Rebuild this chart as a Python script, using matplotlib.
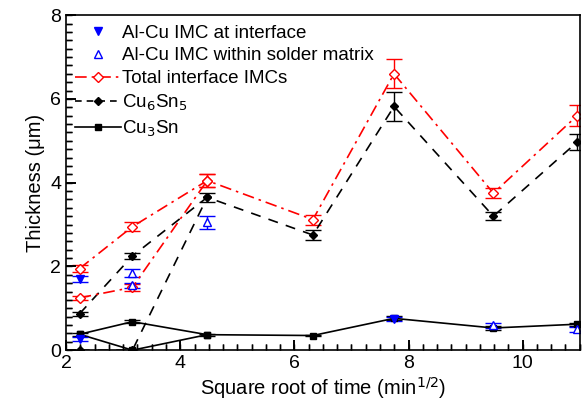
import numpy as np
import matplotlib.pyplot as plt
from matplotlib.lines import Line2D
from matplotlib.ticker import MultipleLocator

plt.rcParams['font.family'] = ['Liberation Sans', 'DejaVu Sans']

# sqrt of reflow time (min^1/2)
t = np.sqrt([5, 10, 20, 40, 60, 90, 120])

# Total interface IMCs
total = [1.95, 2.95, 4.05, 3.12, 6.6, 3.75, 5.6]
total_err = [0.08, 0.1, 0.15, 0.12, 0.35, 0.12, 0.25]
total_low_x = t[:3]
total_low = [1.25, 1.5, 4.05]
total_low_err = [0.05, 0.08, 0.15]

# Cu6Sn5
cu6 = [0.87, 2.25, 3.65, 2.75, 5.82, 3.2, 4.97]
cu6_err = [0.05, 0.08, 0.1, 0.12, 0.35, 0.1, 0.2]
cu6_low_x = t[:3]
cu6_low = [0.0, 0.0, 3.65]

# Cu3Sn
cu3 = [0.38, 0.68, 0.37, 0.35, 0.76, 0.53, 0.62]
cu3_err = [0.03, 0.03, 0.02, 0.02, 0.05, 0.04, 0.04]
cu3_low_x = t[:3]
cu3_low = [0.38, 0.0, 0.37]

# Al-Cu IMC at interface
alcu_if_x = [t[0], t[0], t[4]]
alcu_if = [1.7, 0.27, 0.75]
alcu_if_err = [0.06, 0.05, 0.05]

# Al-Cu IMC within solder matrix
alcu_m_x = [t[1], t[1], t[2], t[5], t[6]]
alcu_m = [1.85, 1.55, 3.05, 0.6, 0.5]
alcu_m_err = [0.1, 0.06, 0.15, 0.06, 0.06]

fig, ax = plt.subplots(figsize=(5.85, 4.11), dpi=100)
fig.subplots_adjust(left=0.113, right=0.991, bottom=0.148, top=0.963)

eb = dict(capsize=6, elinewidth=1.0, capthick=1.0)
dash = (6, 5)
dashdot = (7, 3, 1.5, 3)

ax.plot(cu3_low_x, cu3_low, '-', color='black', lw=1.2, marker='s', ms=5)
ax.errorbar(t, cu3, yerr=cu3_err, fmt='-s', color='black', lw=1.2, ms=5, **eb)

ax.plot(cu6_low_x, cu6_low, '--', color='black', lw=1.2, marker='D', ms=4.5, dashes=dash)
ax.errorbar(t, cu6, yerr=cu6_err, fmt='--D', color='black', lw=1.2, ms=4.5,
            dashes=dash, **eb)

ax.errorbar(total_low_x, total_low, yerr=total_low_err, fmt='-.D', color='red',
            mfc='white', lw=1.2, ms=5, dashes=dashdot, **eb)
ax.errorbar(t, total, yerr=total_err, fmt='-.D', color='red', mfc='white',
            lw=1.2, ms=5, dashes=dashdot, **eb)

ax.errorbar(alcu_m_x, alcu_m, yerr=alcu_m_err, fmt='^', color='blue', mfc='white',
            ms=6, **eb)
ax.errorbar(alcu_if_x, alcu_if, yerr=alcu_if_err, fmt='v', color='blue', ms=6, **eb)

xmin, xmax, ymin, ymax = 2, 11, 0, 8
ax.set_xlim(xmin, xmax)
ax.set_ylim(ymin, ymax)
ax.xaxis.set_major_locator(MultipleLocator(2))
ax.xaxis.set_minor_locator(MultipleLocator(0.25))
ax.yaxis.set_major_locator(MultipleLocator(2))
ax.yaxis.set_minor_locator(MultipleLocator(0.2))
ax.set_axisbelow(False)
ax.tick_params(which='major', direction='in', length=7, width=1.2,
               color='black', labelsize=14, top=False, right=False)
ax.tick_params(which='minor', direction='in', length=4, width=1.0,
               color='black', top=False, right=False)
for s in ax.spines.values():
    s.set_linewidth(1.2)

# inward tick marks drawn explicitly as well (same places as the locators)
xmaj = np.arange(xmin, xmax + 1e-9, 2)
xmin_t = np.arange(xmin, xmax + 1e-9, 0.25)
ymaj = np.arange(ymin, ymax + 1e-9, 2)
ymin_t = np.arange(ymin, ymax + 1e-9, 0.2)
bx = ax.get_xaxis_transform()
by = ax.get_yaxis_transform()
ax.vlines(xmin_t, 0, 0.017, transform=bx, color='black', lw=1.0, clip_on=False)
ax.vlines(xmaj, 0, 0.029, transform=bx, color='black', lw=1.2, clip_on=False)
ax.hlines(ymin_t, 0, 0.011, transform=by, color='black', lw=1.0, clip_on=False)
ax.hlines(ymaj, 0, 0.019, transform=by, color='black', lw=1.2, clip_on=False)

ax.set_xlabel('Square root of time (min$^{1/2}$)', fontsize=14.5, labelpad=2)
ax.set_ylabel('Thickness (\u03bcm)', fontsize=14.5, labelpad=4)

handles = [
    Line2D([], [], ls='none', marker='v', color='blue', ms=6),
    Line2D([], [], ls='none', marker='^', color='blue', mfc='white', ms=6),
    Line2D([], [], ls='-.', dashes=dashdot, marker='D', color='red', mfc='white', ms=5, lw=1.2),
    Line2D([], [], ls='--', dashes=(4, 3), marker='D', color='black', ms=4.5, lw=1.2),
    Line2D([], [], ls='-', marker='s', color='black', ms=5, lw=1.2),
]
labels = ['Al-Cu IMC at interface', 'Al-Cu IMC within solder matrix',
          'Total interface IMCs', 'Cu$_6$Sn$_5$', 'Cu$_3$Sn']
ax.legend(handles, labels, loc='upper left', frameon=False, fontsize=13.5,
          handlelength=2.45, handletextpad=0.05, labelspacing=0.3,
          borderaxespad=0.3, borderpad=0.2)

fig.savefig('out.png', dpi=100)
